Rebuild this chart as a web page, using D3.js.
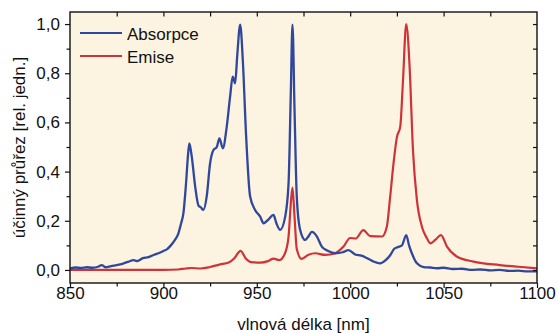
<!DOCTYPE html>
<html><head><meta charset="utf-8">
<script src="https://cdn.jsdelivr.net/npm/d3@7"></script>
<style>body{margin:0;background:#fff}svg{display:block}text{font-family:"Liberation Sans",Arial,sans-serif;fill:#111}</style>
</head><body><div id="chart"></div>
<script>
// Data
const absWl = [850,853,856,859,862,865,867,869,872,875,878,881,884,886,889,892,895,898,900,902,904,906,908,909.5,910.7,912.1,913.2,913.9,915.2,917,918.8,920,921.4,923.2,925,926.8,928.6,930,931.8,933.9,935.7,937.1,938.4,939.6,941.1,942.5,944.3,946.4,949.1,951.8,953.6,956.2,958.9,960.5,962.5,965.2,967,968.2,969.1,970.2,971.4,973.2,975.9,977.5,979.5,982.2,984.8,988,992,996,999.1,1002.7,1006,1008,1012,1016,1019,1021.4,1023.5,1025.5,1027.7,1030,1031.5,1033,1035.7,1039.3,1043,1046.4,1050,1055,1060,1065,1070,1075,1080,1085,1090,1095,1100];
const absVal = [0.006,0.010,0.008,0.011,0.009,0.013,0.020,0.011,0.016,0.020,0.025,0.033,0.040,0.036,0.048,0.052,0.062,0.070,0.077,0.085,0.100,0.120,0.148,0.190,0.230,0.350,0.470,0.515,0.460,0.340,0.262,0.255,0.244,0.300,0.434,0.488,0.500,0.535,0.495,0.582,0.705,0.786,0.759,0.880,0.998,0.854,0.542,0.300,0.244,0.217,0.190,0.205,0.224,0.190,0.163,0.217,0.352,0.718,0.998,0.650,0.298,0.163,0.122,0.135,0.155,0.136,0.095,0.078,0.068,0.072,0.081,0.063,0.058,0.052,0.036,0.027,0.040,0.060,0.085,0.093,0.100,0.142,0.100,0.068,0.027,0.012,0.010,0.007,0.009,0.004,0.005,0.000,0.002,-0.002,0.000,-0.004,-0.003,-0.006,-0.006];
const emWl = [850,900,908,912,915,920,925,930,935,938,941.3,944,947,952,956,958.9,962,965,967,968.2,969.1,970.2,971.4,974,977.7,981.3,986.6,992,996.4,1000,1003,1007,1010.7,1017,1019.6,1021.4,1023.2,1025,1026.8,1028.2,1030,1031.8,1033.6,1035.7,1038.4,1041,1043,1045.5,1048.6,1051.8,1057,1066,1080,1090,1100];
const emVal = [0.000,0.000,0.002,0.006,0.008,0.006,0.012,0.022,0.030,0.048,0.078,0.048,0.032,0.030,0.036,0.046,0.040,0.066,0.136,0.270,0.335,0.217,0.085,0.045,0.062,0.068,0.061,0.068,0.095,0.130,0.128,0.162,0.138,0.136,0.176,0.298,0.434,0.540,0.583,0.760,1.000,0.827,0.488,0.285,0.176,0.130,0.108,0.122,0.142,0.095,0.055,0.034,0.020,0.013,0.007];
const seriesNames = ["Absorpce","Emise"];
const seriesColors = ["#2f479c","#cf3238"];
const xTicks = [850,900,950,1000,1050,1100];
const yTicks = [0,0.2,0.4,0.6,0.8,1.0];
const xTitle = "vlnová délka [nm]";
const yTitle = "účinný průřez [rel. jedn.]";

const W=559,H=333, L=70,R=537,T=12,B=283;
const svg=d3.select("#chart").append("svg").attr("width",W).attr("height",H);
const x=d3.scaleLinear().domain([850,1100]).range([L,R]);
const y=d3.scaleLinear().domain([-0.053,1.049]).range([B,T]);
const fmt=d=>d3.format(".1f")(d).replace(".",",");

svg.append("rect").attr("x",L).attr("y",T).attr("width",R-L).attr("height",B-T).attr("fill","#fcf3e0");
svg.append("clipPath").attr("id","clip").append("rect").attr("x",L).attr("y",T).attr("width",R-L).attr("height",B-T);

const line=d3.line().x(d=>x(d[0])).y(d=>y(d[1])).curve(d3.curveMonotoneX);
const absData=absWl.map((w,i)=>[w,absVal[i]]);
const emData=emWl.map((w,i)=>[w,emVal[i]]);
const g=svg.append("g").attr("clip-path","url(#clip)");
g.append("path").datum(emData).attr("d",line).attr("fill","none").attr("stroke",seriesColors[1]).attr("stroke-width",2.2).attr("stroke-linejoin","round");
g.append("path").datum(absData).attr("d",line).attr("fill","none").attr("stroke",seriesColors[0]).attr("stroke-width",2.3).attr("stroke-linejoin","round");

// axes
const ax=(sel)=>{sel.select(".domain").remove();sel.selectAll("line").attr("stroke","#111").attr("stroke-width",1.2);sel.selectAll("text").style("font-size","17px").style("font-family","'Liberation Sans',Arial,sans-serif");};
// minor ticks
svg.append("g").attr("transform",`translate(0,${B})`).call(d3.axisBottom(x).tickValues(d3.range(875,1100,50)).tickSize(3.5).tickFormat("")).call(ax);
svg.append("g").attr("transform",`translate(${L},0)`).call(d3.axisLeft(y).tickValues([0.1,0.3,0.5,0.7,0.9]).tickSize(3.5).tickFormat("")).call(ax);
const xb=svg.append("g").attr("transform",`translate(0,${B})`).call(d3.axisBottom(x).tickValues(xTicks).tickSize(5).tickPadding(0).tickFormat(d3.format("d"))).call(ax);
xb.selectAll("text").attr("y",4).attr("dy","0.71em");
svg.append("g").attr("transform",`translate(${L},0)`).call(d3.axisLeft(y).tickValues(yTicks).tickSize(5).tickPadding(5).tickFormat(fmt)).call(ax);
// top & right inward ticks
svg.append("g").attr("transform",`translate(0,${T})`).call(d3.axisTop(x).tickValues(d3.range(875,1100,25)).tickSize(-4.5).tickFormat("")).call(ax);
svg.append("g").attr("transform",`translate(${R},0)`).call(d3.axisRight(y).tickValues(d3.range(0,1.05,0.1)).tickSize(-4).tickFormat("")).call(ax);
// frame
svg.append("rect").attr("x",L).attr("y",T).attr("width",R-L).attr("height",B-T).attr("fill","none").attr("stroke","#111").attr("stroke-width",1.4);

// titles
svg.append("text").attr("x",(L+R)/2).attr("y",330).attr("text-anchor","middle").style("font-size","17px").text(xTitle);
svg.append("text").attr("transform",`translate(25,${(T+B)/2}) rotate(-90)`).attr("text-anchor","middle").style("font-size","17px").text(yTitle);

// legend
const leg=svg.append("g");
seriesNames.forEach((n,i)=>{
  const yy=33+i*23;
  leg.append("line").attr("x1",80).attr("x2",122).attr("y1",yy).attr("y2",yy).attr("stroke",seriesColors[i]).attr("stroke-width",2.2);
  leg.append("text").attr("x",127).attr("y",yy+7).style("font-size","17px").text(n);
});
</script></body></html>
